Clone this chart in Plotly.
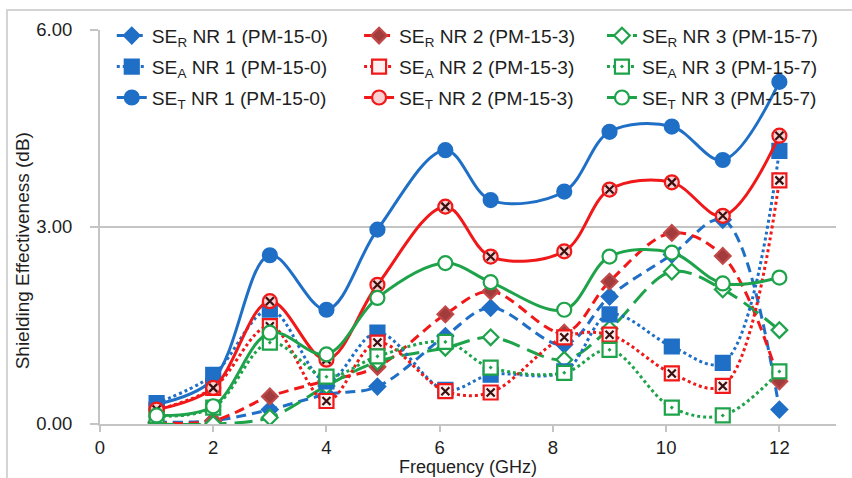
import plotly.graph_objects as go

# Frequencies (GHz)
freq = [1, 2, 3, 4, 4.9, 6.1, 6.9, 8.2, 9.0, 10.1, 11.0, 12]

# Reflection loss SE_R (dB)
se_r_nr1 = [0.03, 0.05, 0.22, 0.45, 0.57, 1.34, 1.77, 1.21, 1.94, 2.58, 3.11, 0.22]
se_r_nr2 = [0.02, 0.05, 0.42, 0.66, 0.87, 1.67, 2.02, 1.39, 2.17, 2.91, 2.56, 0.65]
se_r_nr3 = [0.00, 0.00, 0.10, 0.58, 0.95, 1.16, 1.32, 0.98, 1.45, 2.32, 2.05, 1.43]

# Absorption loss SE_A (dB)
se_a_nr1 = [0.32, 0.75, 1.74, 0.65, 1.39, 0.52, 0.75, 0.80, 1.67, 1.18, 0.93, 4.16]
se_a_nr2 = [0.22, 0.55, 1.49, 0.35, 1.24, 0.50, 0.48, 1.32, 1.36, 0.77, 0.58, 3.71]
se_a_nr3 = [0.12, 0.25, 1.24, 0.72, 1.03, 1.25, 0.86, 0.78, 1.13, 0.25, 0.13, 0.80]

# Total shielding effectiveness SE_T (dB)
se_t_nr1 = [0.30, 0.68, 2.57, 1.74, 2.96, 4.17, 3.41, 3.54, 4.45, 4.53, 4.02, 5.21]
se_t_nr2 = [0.22, 0.55, 1.87, 0.98, 2.12, 3.31, 2.55, 2.63, 3.57, 3.68, 3.17, 4.39]
se_t_nr3 = [0.13, 0.27, 1.39, 1.06, 1.92, 2.45, 2.16, 1.74, 2.55, 2.61, 2.14, 2.23]

x_ticks = [0, 2, 4, 6, 8, 10, 12]
y_ticks = [0, 3, 6]

BLUE = "#1f6fc6"
RED = "#f01818"
GREEN = "#1ea34a"
MAROON = "#a23c3c"
FONT = "Liberation Sans, Arial, sans-serif"
TXT = "#1e1e1e"

fig = go.Figure()


def add(name, y, color, dash, symbol, msize, mfill, mline, legend, xmark=False):
    fig.add_trace(go.Scatter(
        x=freq, y=y, name=name, mode="lines+markers",
        line=dict(color=color, width=3, dash=dash, shape="spline", smoothing=1),
        marker=dict(symbol=symbol, size=msize, color=mfill,
                    line=dict(color=mline, width=2.2)),
        legend=legend, legendgroup=name,
    ))
    if xmark:
        fig.add_trace(go.Scatter(
            x=freq, y=y, mode="markers", showlegend=False, hoverinfo="skip",
            marker=dict(symbol="x-thin", size=8,
                        line=dict(color="#3a1010", width=2.2)),
            legend=legend, legendgroup=name,
        ))


# Series drawn in worksheet order: SE_R, then SE_A, then SE_T
add("SE<sub>R</sub> NR 1 (PM-15-0)", se_r_nr1, BLUE, "10px,6px", "diamond", 12, BLUE, BLUE, "legend")
add("SE<sub>R</sub> NR 2 (PM-15-3)", se_r_nr2, RED, "10px,6px", "diamond", 12, MAROON, "#c04848", "legend2")
add("SE<sub>R</sub> NR 3 (PM-15-7)", se_r_nr3, GREEN, "18px,8px", "diamond", 12, "white", GREEN, "legend3")

add("SE<sub>A</sub> NR 1 (PM-15-0)", se_a_nr1, BLUE, "dot", "square", 14, BLUE, BLUE, "legend")
add("SE<sub>A</sub> NR 2 (PM-15-3)", se_a_nr2, RED, "dot", "square", 14, "#fff0f0", RED, "legend2", xmark=True)
add("SE<sub>A</sub> NR 3 (PM-15-7)", se_a_nr3, GREEN, "dot", "square-dot", 14, "white", GREEN, "legend3")

add("SE<sub>T</sub> NR 1 (PM-15-0)", se_t_nr1, BLUE, "solid", "circle", 14, BLUE, BLUE, "legend")
add("SE<sub>T</sub> NR 2 (PM-15-3)", se_t_nr2, RED, "solid", "circle", 14, "#fbd0d0", RED, "legend2", xmark=True)
add("SE<sub>T</sub> NR 3 (PM-15-7)", se_t_nr3, GREEN, "solid", "circle", 14, "white", GREEN, "legend3")

legend_common = dict(
    orientation="v", yanchor="top", xanchor="left",
    bgcolor="rgba(0,0,0,0)", borderwidth=0,
    font=dict(family=FONT, size=19.2, color=TXT),
    itemwidth=30, tracegroupgap=3, traceorder="grouped",
)

fig.update_layout(
    width=852, height=478,
    margin=dict(l=100, r=16, t=30, b=53.5),
    paper_bgcolor="white", plot_bgcolor="white",
    font=dict(family=FONT, size=18.5, color=TXT),
    legend=dict(x=0.016, y=1.034, **legend_common),
    legend2=dict(x=0.352, y=1.034, **legend_common),
    legend3=dict(x=0.682, y=1.034, **legend_common),
    xaxis=dict(
        range=[0, 13], tickvals=x_ticks, ticktext=[str(v) for v in x_ticks],
        showgrid=False, zeroline=False,
        showline=True, linecolor="#c4c4c4", linewidth=2,
        ticks="outside", ticklen=6, tickcolor="#c4c4c4", tickwidth=2,
        ticklabelstandoff=0,
        tickfont=dict(family=FONT, size=18.5, color=TXT),
    ),
    yaxis=dict(
        range=[0, 6], tickvals=y_ticks, ticktext=["0.00", "3.00", "6.00"],
        showgrid=True, gridcolor="#c4c4c4", gridwidth=2, zeroline=False,
        showline=True, linecolor="#c4c4c4", linewidth=2,
        ticks="outside", ticklen=8, tickcolor="#c4c4c4", tickwidth=2,
        ticklabelstandoff=14,
        tickfont=dict(family=FONT, size=18.5, color=TXT),
    ),
    annotations=[
        dict(text="Shielding Effectiveness (dB)", textangle=-90,
             xref="paper", yref="paper", x=-0.105, y=0.44,
             xanchor="center", yanchor="middle", showarrow=False,
             font=dict(family=FONT, size=19, color=TXT)),
        dict(text="Frequency (GHz)",
             xref="paper", yref="paper", x=0.5, y=0,
             yshift=-43, xanchor="center", yanchor="middle", showarrow=False,
             font=dict(family=FONT, size=18, color=TXT)),
    ],
    shapes=[
        # chart-area frame (left and top edges visible)
        dict(type="rect", xref="paper", yref="paper",
             x0=-0.1264, x1=1.2, y0=-0.3, y1=1.0507,
             line=dict(color="#d4d4d4", width=2), layer="below"),
    ],
)

fig.write_html("out.html")
